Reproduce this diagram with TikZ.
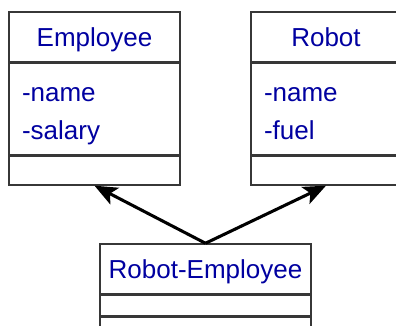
\documentclass[tikz,border=0pt]{standalone}
\usepackage{fontspec}
\setmainfont{Liberation Sans}
\usepackage{xcolor}
\usetikzlibrary{arrows.meta, positioning}
\definecolor{classtext}{RGB}{0,0,160}
\definecolor{classline}{RGB}{55,55,55}
\tikzset{
    section/.style={rectangle, draw=classline, line width=1.1pt, inner sep=0pt, text=classtext, font=\fontsize{19.5}{28.5}\selectfont},
    titlebox/.style={section, minimum height=37.5pt, text centered, text height=25.5pt, text depth=12pt},
    attrbox/.style={section, minimum height=68.25pt, align=left, inner xsep=9.75pt, text height=28.5pt, text depth=39.75pt},
    opsbox/.style={section, minimum height=21.75pt},
    arrow/.style={line width=2.3pt, -{Stealth[length=17pt, width=14pt, inset=4pt]}}
}
\begin{document}
\begin{tikzpicture}[x=0.75pt, y=-0.75pt]
    \useasboundingbox (0,0) rectangle (396,325);
    \clip (0,0) rectangle (396,325);

    % Employee class
    \node (emp_title) [titlebox, minimum width=128.25pt] at (94.5,37) {Employee};
    \node (emp_attr) [attrbox, minimum width=128.25pt, text width=108.75pt, below=0pt of emp_title] {-name\\-salary};
    \node (emp_ops) [opsbox, minimum width=128.25pt, below=0pt of emp_attr] {};

    % Robot class
    \node (rob_title) [titlebox, minimum width=112.5pt] at (326,37) {Robot};
    \node (rob_attr) [attrbox, minimum width=112.5pt, text width=93pt, below=0pt of rob_title] {-name\\-fuel};
    \node (rob_ops) [opsbox, minimum width=112.5pt, below=0pt of rob_attr] {};

    % Robot-Employee class
    \node (re_title) [titlebox, minimum width=158.25pt] at (205.5,269) {Robot-Employee};
    \node (re_attr) [section, minimum width=158.25pt, minimum height=15pt, below=0pt of re_title] {};
    \node (re_ops) [section, minimum width=158.25pt, minimum height=15pt, below=0pt of re_attr] {};

    % Inheritance
    \draw [arrow] (re_title.north) -- (emp_ops.south);
    \draw [arrow] (re_title.north) -- (rob_ops.south);
\end{tikzpicture}
\end{document}
